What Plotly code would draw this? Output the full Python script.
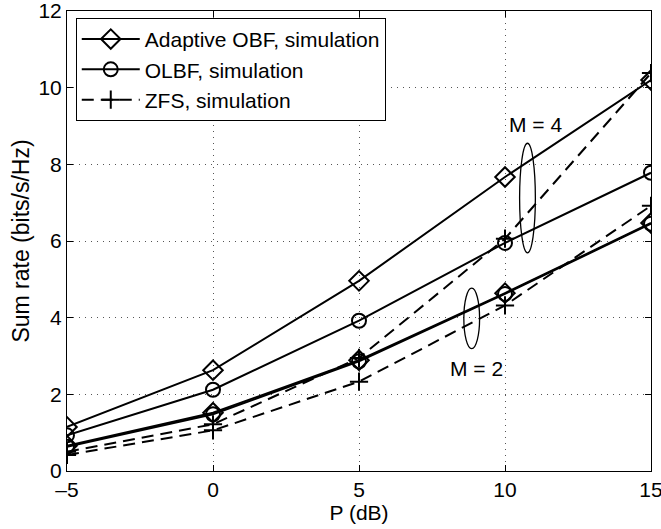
import plotly.graph_objects as go

P_dB = [-5, 0, 5, 10, 15]

# M = 4
obf_m4 = [1.15, 2.63, 4.96, 7.67, 10.2]
olbf_m4 = [0.93, 2.12, 3.92, 5.95, 7.78]
zfs_m4 = [0.5, 1.22, 2.95, 6.06, 10.38]
# M = 2
obf_m2 = [0.66, 1.52, 2.89, 4.64, 6.47]
olbf_m2 = [0.63, 1.48, 2.86, 4.62, 6.45]
zfs_m2 = [0.42, 1.06, 2.33, 4.32, 6.92]

legend_names = ["Adaptive OBF, simulation", "OLBF, simulation", "ZFS, simulation"]
x_ticks = [-5, 0, 5, 10, 15]
x_ticktext = ["\u20135", "0", "5", "10", "15"]
y_ticks = [0, 2, 4, 6, 8, 10, 12]

font_family = "Liberation Sans, Arial, sans-serif"

fig = go.Figure()

styles = [
    dict(symbol="diamond-open", size=15, dash="solid"),
    dict(symbol="circle-open", size=14, dash="solid"),
    dict(symbol="cross-thin-open", size=13, dash="12px,7px"),
]

series = [(obf_m4, obf_m2), (olbf_m4, olbf_m2), (zfs_m4, zfs_m2)]

for i, ((m4, m2), st, name) in enumerate(zip(series, styles, legend_names)):
    for j, ys in enumerate((m4, m2)):
        fig.add_trace(go.Scatter(
            x=P_dB, y=ys, mode="lines+markers", name=name,
            legendgroup=name, showlegend=(j == 0),
            line=dict(color="black", width=2, dash=st["dash"]),
            marker=dict(symbol=st["symbol"], size=st["size"], color="black",
                        line=dict(color="black", width=2)),
        ))

# annotations: ellipses and labels
ell_m4 = dict(cx=10.77, cy=7.12, rx=0.27, ry=1.43)
ell_m2 = dict(cx=8.86, cy=3.98, rx=0.27, ry=0.79)
for e in (ell_m4, ell_m2):
    fig.add_shape(type="circle", xref="x", yref="y",
                  x0=e["cx"] - e["rx"], x1=e["cx"] + e["rx"],
                  y0=e["cy"] - e["ry"], y1=e["cy"] + e["ry"],
                  line=dict(color="black", width=1.3))

fig.add_annotation(x=11.05, y=9.03, text="M = 4", showarrow=False,
                   font=dict(size=21, color="black", family=font_family))
fig.add_annotation(x=9.03, y=2.68, text="M = 2", showarrow=False,
                   font=dict(size=21, color="black", family=font_family))

axis_common = dict(
    showline=True, linecolor="black", linewidth=1, mirror="ticks",
    ticks="inside", ticklen=6, tickcolor="black",
    showgrid=True, gridcolor="#555555", griddash="1px,5px", gridwidth=1,
    zeroline=False, automargin=False, ticklabeloverflow="allow",
    tickfont=dict(size=21, color="black", family=font_family),
)

fig.update_xaxes(range=[-5, 15], tickvals=x_ticks, ticktext=x_ticktext,
                 title=dict(text="P (dB)", standoff=0,
                            font=dict(size=21, color="black", family=font_family)),
                 **axis_common)
fig.update_yaxes(range=[0, 12], tickvals=y_ticks,
                 title=dict(text="Sum rate (bits/s/Hz)", standoff=2,
                            font=dict(size=23, color="black", family=font_family)),
                 **axis_common)

fig.update_layout(
    width=661, height=529,
    margin=dict(l=67, r=10, t=11, b=58, autoexpand=False),
    paper_bgcolor="white", plot_bgcolor="white",
    showlegend=True,
    legend=dict(x=0.015, y=0.985, xanchor="left", yanchor="top",
                bgcolor="white", bordercolor="black", borderwidth=1,
                font=dict(size=21, color="black", family=font_family),
                tracegroupgap=0, itemwidth=58),
    font=dict(family=font_family, color="black"),
)

fig.write_html("out.html", config={"displayModeBar": False},
               post_script="document.body.style.margin='0';")
